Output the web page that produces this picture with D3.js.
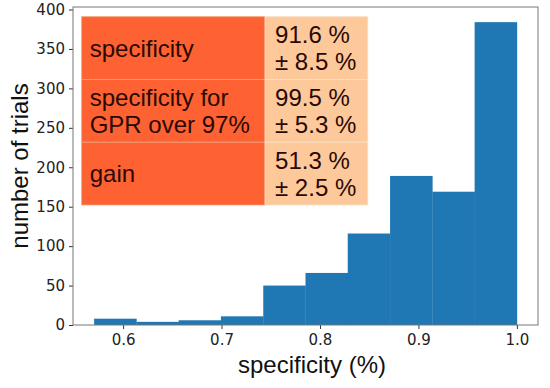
<!DOCTYPE html>
<html>
<head>
<meta charset="utf-8">
<script src="https://cdn.jsdelivr.net/npm/d3@7"></script>
<style>
  body { margin: 0; background: #fff; }
  svg { display: block; font-family: "DejaVu Sans", sans-serif; }
</style>
</head>
<body>
<div id="chart"></div>
<script>
// histogram of specificity over trials
var binEdges = [0.5706, 0.6135, 0.6565, 0.6994, 0.7424, 0.7853, 0.8282, 0.8712, 0.9141, 0.9571, 1.0];
var binCounts = [8, 4, 6, 11, 50, 66, 116, 189, 169, 384];
var xTicks = [0.6, 0.7, 0.8, 0.9, 1.0];
var yTicks = [0, 50, 100, 150, 200, 250, 300, 350, 400];

// table shown on top of the plot
var tableLabels = [["specificity"], ["specificity for", "GPR over 97%"], ["gain"]];
var tableValues = [["91.6 %", "\u00b1 8.5 %"], ["99.5 %", "\u00b1 5.3 %"], ["51.3 %", "\u00b1 2.5 %"]];

var width = 550, height = 388;
var margin = {top: 7, right: 12, bottom: 63, left: 73};
var w = width - margin.left - margin.right,
    h = height - margin.top - margin.bottom;
var labelFont = "'Liberation Sans', Arial, sans-serif";

var svg = d3.select("#chart").append("svg")
    .attr("width", width)
    .attr("height", height);

var g = svg.append("g").attr("transform", "translate(" + margin.left + "," + margin.top + ")");

// matplotlib style 5% margins
var lo = binEdges[0], hi = binEdges[binEdges.length - 1];
var pad = (hi - lo) * 0.05;
var x = d3.scaleLinear().domain([lo - pad, hi + pad]).range([0, w]);
var y = d3.scaleLinear().domain([0, d3.max(binCounts) * 1.05]).range([h, 0]);

var bins = binCounts.map(function (c, i) {
    return {x0: binEdges[i], x1: binEdges[i + 1], count: c};
});

g.selectAll(".bar")
    .data(bins)
    .enter().append("rect")
    .attr("class", "bar")
    .attr("x", function (d) { return x(d.x0); })
    .attr("width", function (d) { return x(d.x1) - x(d.x0) + 0.3; })
    .attr("y", function (d) { return y(d.count); })
    .attr("height", function (d) { return y(0) - y(d.count); })
    .style("fill", "#1f77b4");

// axes
var xAxis = g.append("g")
    .attr("transform", "translate(0," + h + ")")
    .call(d3.axisBottom(x).tickValues(xTicks).tickFormat(d3.format(".1f")).tickSize(4).tickPadding(5));
var yAxis = g.append("g")
    .call(d3.axisLeft(y).tickValues(yTicks).tickSize(4).tickPadding(4));

[xAxis, yAxis].forEach(function (a) {
    a.select(".domain").remove();
    a.selectAll("text").style("font-size", "15px").style("fill", "#222").style("font-family", "DejaVu Sans");
    a.selectAll("line").style("stroke", "#333");
});

// frame
g.append("rect")
    .attr("width", w).attr("height", h)
    .style("fill", "none")
    .style("stroke", "#777")
    .style("stroke-width", 1);

// table
var tx0 = 0.0187 * w, tx1 = 0.413 * w, tx2 = 0.634 * w;
var ty0 = 0.0305 * h, ty1 = 0.6226 * h;
var rowH = (ty1 - ty0) / tableLabels.length;
var lineH = 26.7;
var tbl = g.append("g").attr("class", "table");

tableLabels.forEach(function (lab, i) {
    var top = ty0 + i * rowH;
    tbl.append("rect")
        .attr("x", tx0).attr("y", top)
        .attr("width", tx1 - tx0).attr("height", rowH)
        .style("fill", "#fe6232")
        .style("stroke", "#f3a07a").style("stroke-width", 0.8);
    tbl.append("rect")
        .attr("x", tx1).attr("y", top)
        .attr("width", tx2 - tx1).attr("height", rowH)
        .style("fill", "#fdc99a")
        .style("stroke", "#fbe0c4").style("stroke-width", 0.8);

    var cy = top + rowH / 2;
    var t1 = tbl.append("text")
        .style("font-family", labelFont)
        .style("font-size", "24px").style("fill", "#2a0805");
    lab.forEach(function (s, k) {
        t1.append("tspan")
            .attr("x", tx0 + 8)
            .attr("y", cy + (k - (lab.length - 1) / 2) * lineH)
            .attr("dy", "0.36em")
            .text(s);
    });
    var t2 = tbl.append("text")
        .style("font-family", labelFont)
        .style("font-size", "24px").style("fill", "#2a0805");
    tableValues[i].forEach(function (s, k) {
        t2.append("tspan")
            .attr("x", tx1 + 10)
            .attr("y", cy + (k - (tableValues[i].length - 1) / 2) * lineH)
            .attr("dy", "0.36em")
            .text(s);
    });
});

// axis labels
svg.append("text")
    .attr("x", 312)
    .attr("y", 373)
    .style("text-anchor", "middle")
    .style("font-family", labelFont)
    .style("font-size", "24px")
    .style("fill", "#111")
    .text("specificity (%)");

svg.append("text")
    .attr("transform", "translate(28," + (margin.top + h / 2) + ") rotate(-90)")
    .style("text-anchor", "middle")
    .style("font-family", labelFont)
    .style("font-size", "24px")
    .style("fill", "#111")
    .text("number of trials");
</script>
</body>
</html>
